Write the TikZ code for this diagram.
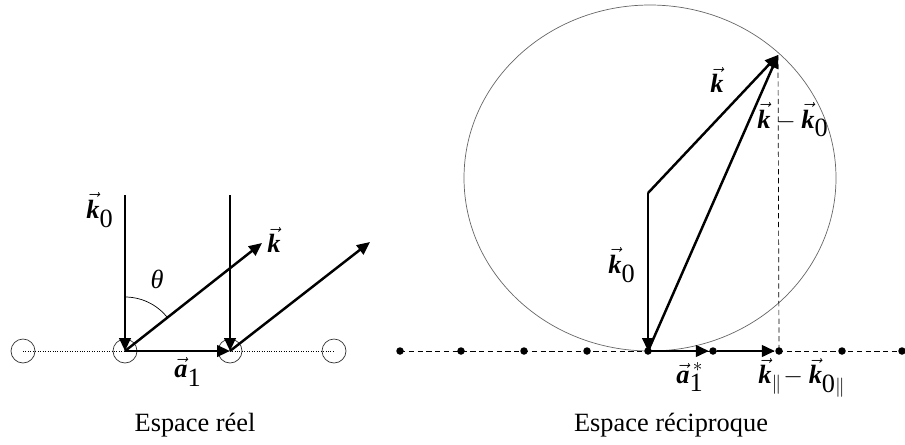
\documentclass[tikz,border=0pt]{standalone}
\usepackage{fontspec}
\setmainfont{Liberation Serif}
\usepackage{tikz}
\usetikzlibrary{arrows.meta}
\newcommand{\bk}{\textbf{\textit{k}}}
\newcommand{\ba}{\textbf{\textit{a}}}

\begin{document}
\begin{tikzpicture}[
    x=0.02cm, y=-0.02cm,
    every node/.style={font=\fontsize{15}{18}\selectfont},
    vecarrow/.style={-{Triangle[length=0.26cm, width=0.23cm]}, line width=1.4pt},
    atom/.style={
        circle,
        draw=black!80,
        thin,
        inner sep=0pt,
        minimum size=0.48cm
    },
    rdot/.style={
        circle,
        fill=black,
        inner sep=0pt,
        minimum size=0.15cm
    }
]
\useasboundingbox (0,0) rectangle (905,444);

% espace reel
\foreach \i/\x in {1/23, 2/125, 3/230, 4/334}
    \node[atom] (c\i) at (\x,351) {};
\draw[densely dotted] (c1.center) -- (c4.center);

\coordinate (s1) at (125,195);
\coordinate (s2) at (230,195);
\coordinate (e1) at (262,243);
\coordinate (e2) at (370,242);

\draw[vecarrow] (s1) -- (c2.center);
\draw[vecarrow] (s2) -- (c3.center);
\draw[vecarrow] (c2.center) -- (e1);
\draw[vecarrow] (c3.center) -- (e2);
\draw[vecarrow] (c2.center) -- (c3.center);
\draw (c2.center) ++(0,-54) arc[start angle=-90, end angle=-38, radius=54];

\node (k0lab) at (100,210) {$\vec{\bk}_{\textrm{0}}$};
\node (thlab) at (157,279) {\itshape θ};
\node (klab) at (274,240) {$\vec{\bk}$};
\node (alab) at (188,372) {$\vec{\ba}_{\textrm{1}}$};
\node (reel) at (195,425) {Espace réel};

% espace reciproque
\draw[black!60] (650,178) ellipse [x radius=186, y radius=173];
\draw[densely dashed] (400,351) -- (905,351);
\foreach \i/\x in {1/400, 2/461, 3/524, 4/587, 5/648, 6/713, 7/779, 8/842, 9/902}
    \node[rdot] (d\i) at (\x,351) {};

\coordinate (top) at (648,193);
\coordinate (tip) at (778,55);

\draw[densely dashed] (tip) -- (d7.center);
\draw[vecarrow] (top) -- (d5.center);
\draw[vecarrow] (top) -- (tip);
\draw[vecarrow] (d5.center) -- (tip);
\draw[vecarrow] (d5.center) -- (d6);
\draw[vecarrow] (d6) -- (d7);

\node (kklab) at (717,80) {$\vec{\bk}$};
\node (difflab) at (793,120) {$\vec{\bk}-\vec{\bk}_{\textrm{0}}$};
\node (k0rlab) at (622,265) {$\vec{\bk}_{\textrm{0}}$};
\node (aslab) at (690,377) {$\vec{\ba}_{\textrm{1}}^{\,*}$};
\node (parlab) at (802,378) {$\vec{\bk}_{\|}\!-\vec{\bk}_{\textrm{0}\|}$};
\node (recip) at (671,425) {Espace réciproque};

\end{tikzpicture}
\end{document}
